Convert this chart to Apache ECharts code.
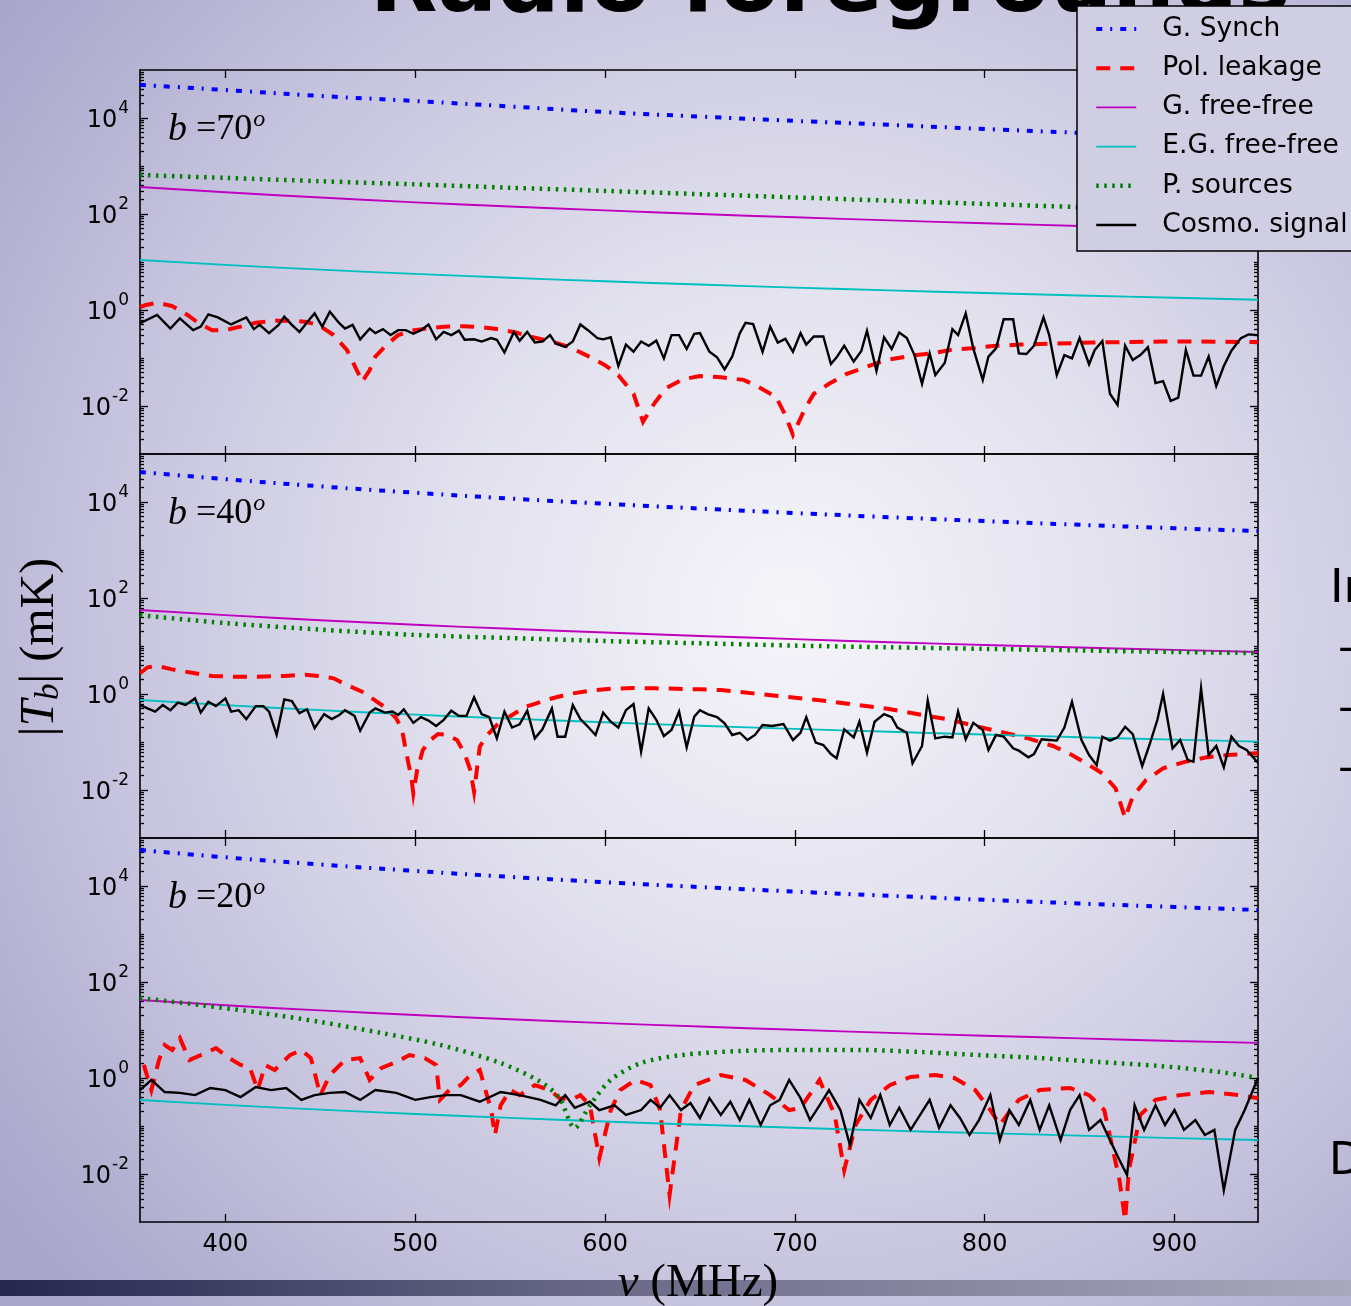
<!DOCTYPE html>
<html>
<head>
<meta charset="utf-8">
<script src="https://cdn.jsdelivr.net/npm/echarts@6/dist/echarts.min.js"></script>
<style>
html,body{margin:0;padding:0;overflow:hidden;}
#c{width:1351px;height:1306px;}
</style>
</head>
<body>
<div id="c"></div>
<script>
// Frequency axis (MHz) and tick layout
const X_MIN = 355, X_MAX = 944;
const X_TICKS = [400, 500, 600, 700, 800, 900];
// Brightness axis spans 10^-3 .. 10^5 mK; labelled decades given as exponents
const Y_MIN_EXP = -3, Y_MAX_EXP = 5;
const Y_LABEL_EXP = [-2, 0, 2, 4];

// Sampling frequencies for the smooth foreground components
const FREQ = [355, 400, 450, 500, 550, 600, 650, 700, 750, 800, 850, 900, 944];

// ---- b = 70 deg ----
const synch70 = [49000, 38300, 28800, 22600, 17400, 13300, 10700, 8700, 7200, 5900, 4900, 4100, 3550];
const gff70   = [365, 283, 220, 175, 143, 119, 100, 85.4, 73.6, 64.2, 56.4, 49.9, 45.0];
const egff70  = [11.0, 8.73, 6.93, 5.65, 4.69, 3.96, 3.39, 2.93, 2.56, 2.26, 2.01, 1.80, 1.64];
const psrc70  = [649, 565, 482, 414, 353, 303, 259, 222, 189, 162, 139, 119, 104];
const pol70 = [[355,1.15],[358,1.27],[364,1.42],[372,1.21],[380,0.79],[386,0.53],[393,0.38],[400,0.38],[408,0.45],[416,0.54],[427,0.60],[434,0.60],[442,0.57],[449,0.49],[457,0.30],[464,0.147],[470,0.048],[472,0.032],[476,0.056],[479,0.107],[485,0.19],[491,0.30],[498,0.37],[506,0.41],[515,0.45],[525,0.46],[536,0.435],[543,0.40],[553,0.34],[562,0.27],[572,0.22],[581,0.17],[590,0.115],[600,0.071],[607,0.044],[615,0.018],[620,0.0047],[626,0.0114],[632,0.0233],[641,0.036],[650,0.042],[661,0.0396],[673,0.035],[680,0.026],[690,0.0156],[695,0.0065],[699,0.0025],[705,0.0083],[710,0.018],[718,0.029],[727,0.046],[737,0.064],[748,0.091],[763,0.114],[772,0.125],[782,0.147],[793,0.159],[806,0.18],[819,0.19],[838,0.20],[857,0.21],[876,0.215],[894,0.22],[913,0.22],[944,0.215]];
const cosmo70 = [[355,0.53],[364,0.79],[371,0.41],[376,0.67],[383,0.38],[387,0.45],[391,0.81],[396,0.70],[403,0.50],[411,0.70],[415,0.40],[418,0.49],[423,0.33],[428,0.49],[431,0.73],[435,0.49],[439,0.35],[444,0.62],[447,0.85],[451,0.45],[455,0.92],[460,0.53],[463,0.41],[467,0.49],[471,0.245],[476,0.41],[479,0.33],[483,0.40],[487,0.30],[491,0.38],[495,0.38],[499,0.32],[503,0.38],[507,0.50],[511,0.245],[515,0.35],[519,0.30],[523,0.37],[526,0.24],[531,0.245],[535,0.22],[540,0.26],[543,0.24],[547,0.13],[552,0.35],[555,0.23],[559,0.35],[563,0.21],[567,0.22],[571,0.30],[574,0.20],[579,0.17],[583,0.22],[587,0.50],[591,0.38],[596,0.26],[599,0.245],[603,0.27],[607,0.068],[611,0.19],[615,0.135],[619,0.22],[623,0.18],[627,0.23],[631,0.098],[635,0.30],[639,0.30],[643,0.154],[647,0.32],[650,0.33],[655,0.135],[659,0.103],[663,0.058],[667,0.107],[671,0.33],[674,0.54],[678,0.51],[683,0.135],[687,0.45],[691,0.21],[695,0.25],[699,0.135],[703,0.33],[706,0.19],[710,0.28],[715,0.28],[719,0.075],[722,0.103],[726,0.18],[731,0.084],[735,0.14],[738,0.37],[743,0.054],[747,0.27],[751,0.154],[755,0.34],[759,0.26],[763,0.115],[767,0.029],[771,0.125],[774,0.044],[779,0.080],[783,0.40],[786,0.30],[790,0.85],[794,0.159],[799,0.035],[802,0.107],[806,0.159],[810,0.64],[815,0.64],[818,0.125],[822,0.121],[826,0.18],[831,0.70],[834,0.30],[838,0.044],[842,0.115],[846,0.098],[850,0.26],[855,0.074],[858,0.147],[862,0.226],[866,0.018],[870,0.0105],[874,0.18],[878,0.091],[882,0.115],[886,0.167],[890,0.030],[894,0.033],[898,0.0127],[902,0.0149],[906,0.147],[910,0.043],[914,0.043],[918,0.107],[922,0.026],[926,0.068],[930,0.142],[935,0.26],[939,0.31],[944,0.30]];

// ---- b = 40 deg ----
const synch40 = [42200, 29900, 21200, 15600, 11800, 9200, 7300, 5890, 4820, 4000, 3350, 2840, 2470];
const gff40   = [56.2, 44.0, 34.5, 27.7, 22.8, 19.1, 16.2, 13.9, 12.0, 10.5, 9.3, 8.3, 7.5];
const egff40  = [0.75, 0.587, 0.462, 0.372, 0.307, 0.257, 0.218, 0.188, 0.163, 0.143, 0.126, 0.112, 0.102];
const psrc40  = [44, 30, 22, 17, 14.6, 12.7, 11.4, 10.2, 9.4, 8.7, 8.1, 7.5, 7.1];
const pol40 = [[355,2.70],[359,3.60],[364,3.83],[372,3.26],[384,2.70],[393,2.37],[404,2.30],[417,2.30],[431,2.37],[442,2.53],[449,2.37],[457,2.12],[464,1.54],[472,1.12],[479,0.73],[485,0.50],[490,0.31],[493,0.184],[495,0.068],[498,0.0175],[499,0.0085],[501,0.026],[504,0.068],[508,0.110],[512,0.147],[517,0.14],[522,0.110],[526,0.058],[529,0.026],[531,0.0092],[534,0.080],[538,0.14],[543,0.226],[551,0.365],[558,0.54],[570,0.77],[581,1.0],[592,1.17],[603,1.29],[615,1.33],[626,1.31],[637,1.29],[650,1.25],[661,1.21],[678,1.03],[695,0.88],[712,0.75],[729,0.62],[748,0.50],[767,0.365],[782,0.29],[795,0.215],[808,0.164],[823,0.119],[836,0.0826],[846,0.0536],[855,0.033],[862,0.0222],[869,0.0108],[874,0.0026],[878,0.0073],[885,0.0161],[894,0.0283],[906,0.039],[917,0.048],[928,0.0536],[936,0.056],[944,0.058]];
const cosmo40 = [[355,0.59],[359,0.50],[363,0.43],[367,0.59],[371,0.46],[375,0.66],[379,0.59],[384,0.81],[387,0.41],[391,0.69],[395,0.56],[400,0.81],[403,0.43],[407,0.46],[411,0.30],[416,0.56],[420,0.56],[423,0.43],[427,0.14],[431,0.77],[435,0.71],[439,0.40],[443,0.48],[447,0.193],[452,0.38],[456,0.30],[460,0.365],[463,0.46],[468,0.35],[471,0.172],[476,0.41],[479,0.50],[484,0.41],[488,0.43],[491,0.365],[494,0.48],[499,0.25],[503,0.33],[507,0.28],[511,0.215],[515,0.29],[519,0.45],[523,0.35],[527,0.35],[531,0.85],[535,0.38],[539,0.33],[543,0.119],[547,0.43],[551,0.20],[555,0.233],[559,0.45],[563,0.119],[567,0.184],[572,0.50],[575,0.129],[579,0.129],[583,0.59],[587,0.30],[591,0.208],[595,0.14],[599,0.41],[603,0.265],[607,0.20],[611,0.46],[615,0.62],[619,0.063],[623,0.50],[627,0.29],[631,0.133],[635,0.178],[639,0.43],[643,0.077],[647,0.337],[650,0.46],[654,0.38],[659,0.33],[663,0.245],[667,0.14],[671,0.156],[675,0.110],[679,0.14],[683,0.226],[688,0.215],[694,0.237],[699,0.110],[703,0.156],[706,0.33],[711,0.097],[715,0.0865],[719,0.056],[722,0.0457],[726,0.184],[731,0.125],[734,0.265],[738,0.060],[742,0.265],[747,0.38],[751,0.33],[754,0.20],[759,0.156],[762,0.036],[767,0.0826],[770,0.73],[774,0.119],[779,0.129],[783,0.125],[786,0.43],[790,0.114],[794,0.25],[799,0.178],[802,0.068],[806,0.14],[810,0.129],[815,0.074],[818,0.066],[823,0.048],[826,0.056],[830,0.114],[834,0.110],[838,0.107],[842,0.20],[846,0.69],[851,0.110],[855,0.0536],[859,0.033],[862,0.129],[866,0.107],[870,0.125],[874,0.208],[878,0.145],[883,0.0316],[887,0.091],[891,0.29],[894,1.0],[899,0.074],[903,0.110],[907,0.042],[910,0.039],[914,1.31],[918,0.0536],[922,0.0826],[926,0.0296],[930,0.129],[934,0.0826],[938,0.068],[944,0.037]];

// ---- b = 20 deg ----
const synch20 = [56200, 39600, 28000, 20600, 15500, 12000, 9500, 7640, 6240, 5160, 4320, 3650, 3170];
const gff20   = [42.2, 32.8, 25.6, 20.5, 16.7, 13.9, 11.8, 10.1, 8.7, 7.6, 6.7, 5.9, 5.4];
const egff20  = [0.348, 0.275, 0.219, 0.178, 0.148, 0.124, 0.106, 0.092, 0.080, 0.071, 0.063, 0.056, 0.051];
const psrc20  = [[355,46.4],[387,33],[419,22.6],[450,14.7],[482,8.7],[513,4.9],[545,2.05],[566,0.83],[576,0.38],[584,0.091],[592,0.27],[603,0.91],[619,2.05],[640,3.0],[671,3.65],[703,3.83],[734,3.83],[766,3.48],[797,3.0],[829,2.6],[861,2.15],[892,1.78],[924,1.33],[944,1.0]];
const pol20 = [[357,1.87],[361,0.56],[365,2.37],[368,4.87],[372,3.83],[376,6.8],[381,2.37],[387,3.0],[395,4.2],[402,2.6],[408,1.87],[413,1.6],[417,0.56],[421,1.87],[426,1.47],[434,3.0],[440,3.83],[445,2.6],[450,0.44],[455,1.15],[463,2.37],[471,2.6],[476,0.91],[482,1.6],[490,2.15],[497,3.0],[505,2.6],[511,1.87],[513,0.35],[518,0.56],[524,0.71],[529,1.15],[534,1.47],[540,0.215],[542,0.065],[545,0.27],[550,0.56],[555,0.44],[563,0.71],[571,0.56],[576,0.38],[582,0.35],[587,0.44],[592,0.27],[597,0.0215],[603,0.215],[608,0.56],[616,0.91],[624,0.71],[629,0.215],[634,0.00365],[640,0.215],[647,0.71],[661,1.15],[674,0.91],[687,0.44],[697,0.215],[703,0.237],[713,0.91],[721,0.17],[726,0.0121],[732,0.105],[740,0.35],[750,0.71],[761,1.05],[774,1.15],[784,1.0],[795,0.56],[803,0.215],[808,0.105],[813,0.196],[818,0.35],[829,0.56],[845,0.62],[855,0.44],[863,0.215],[871,0.0075],[874,0.0011],[876,0.0121],[882,0.17],[890,0.35],[903,0.44],[918,0.51],[934,0.44],[944,0.38]];
const cosmo20 = [[355,0.56],[361,0.91],[368,0.51],[376,0.49],[384,0.44],[392,0.62],[400,0.56],[408,0.40],[416,0.65],[424,0.56],[432,0.62],[440,0.35],[447,0.44],[455,0.49],[463,0.51],[471,0.35],[479,0.56],[490,0.49],[500,0.35],[508,0.40],[516,0.44],[524,0.44],[534,0.32],[545,0.51],[555,0.44],[566,0.35],[574,0.27],[579,0.44],[584,0.24],[592,0.32],[597,0.215],[605,0.27],[611,0.17],[619,0.215],[624,0.35],[629,0.24],[634,0.44],[640,0.215],[645,0.30],[650,0.147],[655,0.38],[661,0.17],[666,0.32],[671,0.133],[676,0.35],[682,0.105],[687,0.27],[692,0.35],[697,0.91],[703,0.38],[708,0.133],[713,0.27],[718,0.56],[724,0.215],[729,0.040],[734,0.35],[740,0.147],[745,0.44],[750,0.105],[755,0.24],[761,0.083],[766,0.17],[771,0.35],[776,0.091],[782,0.27],[787,0.147],[792,0.065],[797,0.133],[803,0.44],[808,0.051],[813,0.215],[818,0.105],[824,0.35],[829,0.083],[834,0.27],[840,0.051],[845,0.215],[850,0.44],[855,0.083],[861,0.133],[866,0.051],[871,0.0196],[875,0.0095],[879,0.27],[884,0.083],[890,0.27],[895,0.105],[900,0.215],[905,0.083],[911,0.133],[916,0.065],[921,0.083],[926,0.0046],[932,0.083],[937,0.215],[944,1.0]];

const NAMES = ['G. Synch', 'Pol. leakage', 'G. free-free', 'E.G. free-free', 'P. sources', 'Cosmo. signal'];

const panels = [
  { top: 70,  lat: '70', sets: [synch70, pol70, gff70, egff70, psrc70, cosmo70] },
  { top: 454, lat: '40', sets: [synch40, pol40, gff40, egff40, psrc40, cosmo40] },
  { top: 838, lat: '20', sets: [synch20, pol20, gff20, egff20, psrc20, cosmo20] }
];
const PANEL_H = 384;

// line appearance per component
const LOOK = {
  'G. Synch':       { color: '#0000ff', width: 4, type: [6, 8, 2, 8], smooth: true },
  'Pol. leakage':   { color: '#ff0000', width: 4, type: [14, 10], smooth: false },
  'G. free-free':   { color: '#bf00bf', width: 1.9, type: 'solid', smooth: true },
  'E.G. free-free': { color: '#00bfbf', width: 1.9, type: 'solid', smooth: true },
  'P. sources':     { color: '#008000', width: 4.5, type: [2.5, 5.5], smooth: 0.3 },
  'Cosmo. signal':  { color: '#000000', width: 2.4, type: 'solid', smooth: false }
};

const asPairs = v => Array.isArray(v[0]) ? v : FREQ.map((f, k) => [f, v[k]]);

// tick positions on the exponent scale
const MAJOR_Y = Y_LABEL_EXP.slice();
const MINOR_Y = [];
for (let n = Y_MIN_EXP; n < Y_MAX_EXP; n++) {
  for (let k = 1; k <= 9; k++) {
    const v = n + Math.log10(k);
    if (k === 1 && (MAJOR_Y.indexOf(n) >= 0 || n === Y_MIN_EXP)) continue;
    MINOR_Y.push(+v.toFixed(5));
  }
}

const AX = { color: '#000', width: 1.6 };
const TK = { color: '#000', width: 1.3 };

const grids = [], xAxes = [], yAxes = [], series = [];
panels.forEach((p, i) => {
  grids.push({ left: 140, right: 93, top: p.top, height: PANEL_H, containLabel: false });
  const last = i === panels.length - 1;
  ['bottom', 'top'].forEach(pos => {
    xAxes.push({
      type: 'value', gridIndex: i, position: pos, min: X_MIN, max: X_MAX,
      axisLine: { show: true, onZero: false, lineStyle: AX },
      axisTick: { show: true, inside: true, length: 8, customValues: X_TICKS, lineStyle: TK },
      axisLabel: { show: pos === 'bottom' && last, customValues: X_TICKS, color: '#000',
                   fontFamily: 'DejaVu Sans', fontSize: 24, margin: 11 },
      splitLine: { show: false }
    });
  });
  yAxes.push({ type: 'log', logBase: 10, gridIndex: i, min: 1e-3, max: 1e5, show: false });
  ['left', 'right'].forEach(pos => {
    yAxes.push({
      type: 'value', gridIndex: i, position: pos, min: Y_MIN_EXP, max: Y_MAX_EXP,
      axisLine: { show: true, onZero: false, lineStyle: AX },
      axisTick: { show: true, inside: true, length: 8, customValues: MAJOR_Y, lineStyle: TK },
      axisLabel: {
        show: pos === 'left', customValues: Y_LABEL_EXP, margin: 11,
        formatter: v => '{b|10}{e|' + v + '}',
        rich: {
          b: { fontFamily: 'DejaVu Sans', fontSize: 24, color: '#000', padding: [6, 0, 0, 0] },
          e: { fontFamily: 'DejaVu Sans', fontSize: 17, color: '#000', padding: [0, 0, 18, 1] }
        }
      },
      splitLine: { show: false }
    });
    yAxes.push({
      type: 'value', gridIndex: i, position: pos, min: Y_MIN_EXP, max: Y_MAX_EXP,
      axisLine: { show: false, onZero: false },
      axisTick: { show: true, inside: true, length: 4, customValues: MINOR_Y, lineStyle: TK },
      axisLabel: { show: false },
      splitLine: { show: false }
    });
  });
  NAMES.forEach((name, j) => {
    const L = LOOK[name];
    series.push({
      type: 'line', name, xAxisIndex: 2 * i, yAxisIndex: 5 * i,
      data: asPairs(p.sets[j]),
      symbol: 'none', showSymbol: false, smooth: L.smooth, clip: true,
      lineStyle: { color: L.color, width: L.width, type: L.type, cap: 'butt', join: 'miter' },
      itemStyle: { color: L.color },
      z: 2 + j * 0.1, silent: true
    });
  });
});

const serif = '"Liberation Serif", "DejaVu Serif", serif';
const graphics = [
  // page title, mostly above the page edge
  { type: 'text', x: 830, y: -12, z: 1,
    style: { text: 'Radio foregrounds', font: 'bold 88px "DejaVu Sans"', fill: '#000',
             textAlign: 'center', textVerticalAlign: 'middle', align: 'center', verticalAlign: 'middle' } },
  // slide text at the right edge
  { type: 'text', x: 1330, y: 590, z: 1,
    style: { text: 'In', font: '46px "DejaVu Sans"', fill: '#000', textVerticalAlign: 'middle', verticalAlign: 'middle' } },
  { type: 'text', x: 1338, y: 650, z: 1,
    style: { text: '–', font: '46px "DejaVu Sans"', fill: '#000', textVerticalAlign: 'middle', verticalAlign: 'middle' } },
  { type: 'text', x: 1338, y: 710, z: 1,
    style: { text: '–', font: '46px "DejaVu Sans"', fill: '#000', textVerticalAlign: 'middle', verticalAlign: 'middle' } },
  { type: 'text', x: 1338, y: 770, z: 1,
    style: { text: '–', font: '46px "DejaVu Sans"', fill: '#000', textVerticalAlign: 'middle', verticalAlign: 'middle' } },
  { type: 'text', x: 1329, y: 1163, z: 1,
    style: { text: 'D', font: '44px "DejaVu Sans"', fill: '#000', textVerticalAlign: 'middle', verticalAlign: 'middle' } },
  // footer band
  { type: 'rect', z: 1, shape: { x: 0, y: 1280, width: 1351, height: 16 },
    style: { fill: new echarts.graphic.LinearGradient(0, 0, 1, 0, [
      { offset: 0, color: '#262650' }, { offset: 0.45, color: '#6a6a88' }, { offset: 1, color: '#a9a9bd' }]) } },
  // axis titles
  { type: 'text', x: 698, y: 1284, z: 3,
    style: { text: '{i|ν} (MHz)', font: '47px ' + serif, fill: '#000',
             textAlign: 'center', textVerticalAlign: 'middle', align: 'center', verticalAlign: 'middle',
             rich: { i: { fontStyle: 'italic', fontSize: 47, fontFamily: serif, fill: '#000' } } } },
  { type: 'text', x: 40, y: 647, z: 3, rotation: Math.PI / 2,
    style: { text: '|{i|T}{s|b}| (mK)', font: '48px ' + serif, fill: '#000',
             textAlign: 'center', textVerticalAlign: 'middle', align: 'center', verticalAlign: 'middle',
             rich: { i: { fontStyle: 'italic', fontSize: 48, fontFamily: serif, fill: '#000' },
                     s: { fontStyle: 'italic', fontSize: 33, fontFamily: serif, fill: '#000', padding: [19, 0, 0, 0] } } } }
];
panels.forEach(p => {
  graphics.push({ type: 'text', x: 168, y: p.top + 60, z: 3,
    style: { text: '{i|b} =' + p.lat + '{s|o}', font: '36px ' + serif, fill: '#000',
             textVerticalAlign: 'middle', verticalAlign: 'middle',
             rich: { i: { fontStyle: 'italic', fontSize: 38, fontFamily: serif, fill: '#000' },
                     s: { fontStyle: 'italic', fontSize: 24, fontFamily: serif, fill: '#000', padding: [0, 0, 20, 1] } } } });
});

const chart = echarts.init(document.getElementById('c'), null, { renderer: 'canvas', width: 1351, height: 1306 });
chart.setOption({
  animation: false,
  backgroundColor: new echarts.graphic.RadialGradient(790, 610, 980, [
    { offset: 0, color: '#f5f5fa' },
    { offset: 0.35, color: '#e2e1ee' },
    { offset: 0.7, color: '#c6c4de' },
    { offset: 1, color: '#a9a7cb' }
  ], true),
  grid: grids,
  xAxis: xAxes,
  yAxis: yAxes,
  series: series,
  legend: {
    show: true, left: 1077, top: 6, orient: 'vertical', selectedMode: false,
    data: NAMES, itemWidth: 40, itemHeight: 14, itemGap: 9.2,
    padding: [8, 60, 11, 17],
    itemStyle: { opacity: 0 },
    lineStyle: { width: 'inherit', type: 'inherit', color: 'inherit' },
    backgroundColor: '#cfcee3', borderColor: '#000', borderWidth: 1.5, borderRadius: 0,
    textStyle: { fontFamily: 'DejaVu Sans', fontSize: 26.5, color: '#000', padding: [0, 0, 0, 21], lineHeight: 30 }
  },
  graphic: graphics
});
</script>
</body>
</html>
